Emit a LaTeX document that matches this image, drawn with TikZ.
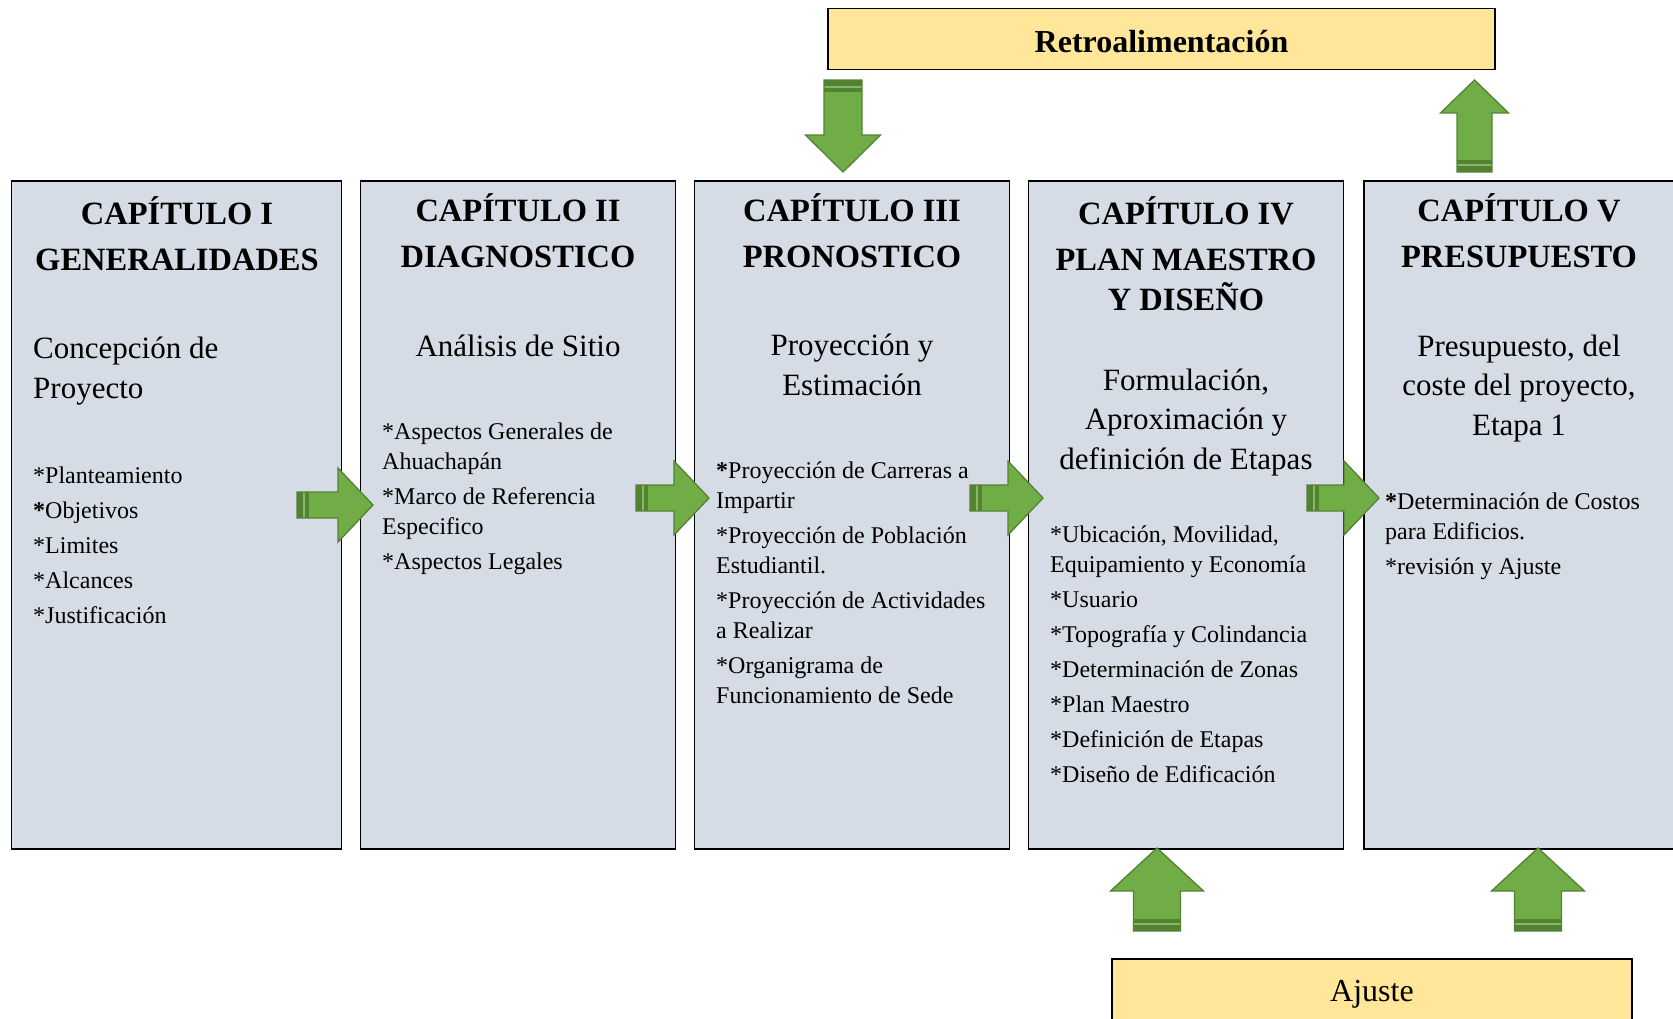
\documentclass[tikz,border=0pt]{standalone}
\usepackage{fontspec}
\setmainfont{Liberation Serif}
\usepackage{tikz}
\definecolor{grisazul}{RGB}{214,220,229}
\definecolor{amarillo}{RGB}{255,230,153}
\definecolor{verde}{RGB}{112,173,71}
\definecolor{verdeosc}{RGB}{84,130,53}

\tikzset{
  caja/.style={draw=black, line width=1.5pt, fill=grisazul, rectangle, inner sep=0pt},
  aviso/.style={draw=black, line width=1.5pt, fill=amarillo, rectangle, inner sep=0pt},
  titulo/.style={font=\fontsize{32.5}{46}\selectfont\bfseries, align=center, anchor=base, inner sep=0pt},
  subtitulo/.style={font=\fontsize{31}{39.5}\selectfont, align=center, anchor=base, inner sep=0pt},
  lista/.style={font=\fontsize{24}{30}\selectfont, align=left, anchor=base west, inner sep=0pt},
}

% flecha de bloque: cola, angulo, largo, largo punta, medio ancho cuerpo, medio ancho punta
\newcommand{\flecha}[6]{%
  \begin{scope}[shift={(#1)}, rotate=#2]
    \fill[verde] (0,-#5) -- ({#3-#4},-#5) -- ({#3-#4},-#6) -- (#3,0) -- ({#3-#4},#6) -- ({#3-#4},#5) -- (0,#5) -- cycle;
    \fill[verdeosc] (0,-#5) rectangle (12,#5);
    \draw[verde!85!white, line width=1.2pt] (7,-#5) -- (7,#5);
    \draw[verdeosc, line width=1.3pt, line join=miter] (0,-#5) -- ({#3-#4},-#5) -- ({#3-#4},-#6) -- (#3,0) -- ({#3-#4},#6) -- ({#3-#4},#5) -- (0,#5) -- cycle;
  \end{scope}}

\begin{document}
\begin{tikzpicture}[x=1pt, y=-1pt]
  \useasboundingbox (0,0) rectangle (1673,1018);

  % cajas
  \node[caja, minimum width=329.7pt, minimum height=668pt] (cap1) at (176.5,515) {};
  \node[caja, minimum width=315pt, minimum height=668pt] (cap2) at (518,515) {};
  \node[caja, minimum width=315pt, minimum height=668pt] (cap3) at (852,515) {};
  \node[caja, minimum width=315pt, minimum height=668pt] (cap4) at (1186,515) {};
  \node[caja, minimum width=330pt, minimum height=668pt] (cap5) at (1529,515) {};
  \node[aviso, minimum width=667pt, minimum height=61pt] (retro) at (1161.5,39) {};
  \node[aviso, minimum width=520pt, minimum height=71pt] (ajuste) at (1372,994.5) {};

  % capitulo I (base = ultima linea)
  \node[titulo] (t1) at (177,270) {CAPÍTULO I\\GENERALIDADES};
  \node[subtitulo, align=left, anchor=base west] (s1) at (33,398) {Concepción de\\Proyecto};
  \node[lista, font=\fontsize{24}{35}\selectfont] (l1) at (33,623) {*Planteamiento\\\textbf{*}Objetivos\\*Limites\\*Alcances\\*Justificación};

  % capitulo II
  \node[titulo] (t2) at (518,267) {CAPÍTULO II\\DIAGNOSTICO};
  \node[subtitulo] (s2) at (518,356) {Análisis de Sitio};
  \node[lista] (l2) at (382,569) {*Aspectos Generales de\\Ahuachapán\\[5pt]*Marco de Referencia\\Especifico\\[5pt]*Aspectos Legales};

  % capitulo III
  \node[titulo] (t3) at (852,267) {CAPÍTULO III\\PRONOSTICO};
  \node[subtitulo] (s3) at (852,395) {Proyección y\\Estimación};
  \node[lista] (l3) at (716,703) {\textbf{*}Proyección de Carreras a\\Impartir\\[5pt]*Proyección de Población\\Estudiantil.\\[5pt]*Proyección de Actividades\\a Realizar\\[5pt]*Organigrama de\\Funcionamiento de Sede};

  % capitulo IV
  \node[titulo] (t4) at (1186,310) {CAPÍTULO IV\\PLAN MAESTRO\\[-6pt]Y DISEÑO};
  \node[subtitulo] (s4) at (1186,469) {Formulación,\\Aproximación y\\definición de Etapas};
  \node[lista] (l4) at (1050,782) {*Ubicación, Movilidad,\\Equipamiento y Economía\\[5pt]*Usuario\\[5pt]*Topografía y Colindancia\\[5pt]*Determinación de Zonas\\[5pt]*Plan Maestro\\[5pt]*Definición de Etapas\\[5pt]*Diseño de Edificación};

  % capitulo V
  \node[titulo] (t5) at (1519,267) {CAPÍTULO V\\PRESUPUESTO};
  \node[subtitulo] (s5) at (1519,435) {Presupuesto, del\\coste del proyecto,\\Etapa 1};
  \node[lista] (l5) at (1385,574) {\textbf{*}Determinación de Costos\\para Edificios.\\[5pt]*revisión y Ajuste};

  % avisos
  \node[font=\fontsize{32}{38}\selectfont\bfseries] (tr) at (1161.5,42) {Retroalimentación};
  \node[font=\fontsize{32}{38}\selectfont] (ta) at (1372,994) {Ajuste};

  % flechas
  \coordinate (f1) at (297,505);
  \coordinate (f2) at (636,498);
  \coordinate (f3) at (970,498);
  \coordinate (f4) at (1307,498);
  \coordinate (fb) at (843,80);
  \coordinate (fs) at (1474.5,172);
  \coordinate (fa) at (1157,931);
  \coordinate (fc) at (1538,931);
  \flecha{f1}{0}{76}{35}{13}{37}
  \flecha{f2}{0}{73}{35}{13}{37}
  \flecha{f3}{0}{73}{35}{13}{37}
  \flecha{f4}{0}{72}{35}{13}{37}
  \flecha{fb}{-90}{92}{37}{19}{37.5}
  \flecha{fs}{90}{92}{33}{17.5}{34}
  \flecha{fa}{90}{83}{43}{23.5}{46.5}
  \flecha{fc}{90}{83}{43}{23.5}{46.5}
\end{tikzpicture}
\end{document}
